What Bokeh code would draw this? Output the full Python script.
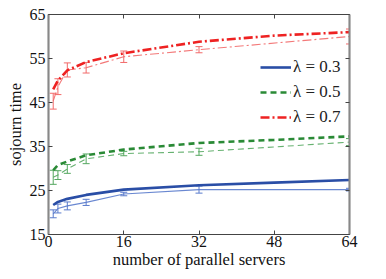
from bokeh.plotting import figure
from bokeh.models import (LinearAxis, FixedTicker, Whisker, TeeHead, ColumnDataSource,
                          Legend, LegendItem, Range1d, CustomJSTickFormatter)
from bokeh.embed import file_html
from bokeh.resources import INLINE

# data
x_model = [1, 2, 4, 8, 16, 32, 48, 64]
model_03 = [21.7, 22.4, 23.1, 24.0, 25.2, 26.2, 26.8, 27.4]
model_05 = [29.6, 30.8, 31.6, 33.0, 34.3, 35.8, 36.5, 37.3]
model_07 = [48.0, 50.0, 52.3, 54.2, 56.2, 58.8, 60.2, 61.0]

x_sim = [1, 2, 4, 8, 16, 32, 64]
sim_03 = [19.7, 20.9, 21.5, 22.3, 24.2, 25.2, 25.2]
err_03 = [0.9, 1.0, 0.9, 0.7, 0.4, 0.8, 0.3]
sim_05 = [28.0, 28.5, 29.9, 32.2, 33.4, 33.8, 36.0]
err_05 = [1.6, 1.0, 1.0, 1.1, 0.5, 0.8, 0.8]
sim_07 = [45.3, 48.6, 52.4, 52.9, 55.4, 57.0, 60.0]
err_07 = [1.8, 1.8, 1.6, 1.2, 1.3, 0.7, 1.7]

labels = ["λ = 0.3", "λ = 0.5", "λ = 0.7"]
x_ticks = [0, 16, 32, 48, 64]
y_ticks = [15, 25, 35, 45, 55, 65]

FONT = "Liberation Serif"
colors = ["#2a4ea6", "#2a8a36", "#ee2222"]
light = ["#5a7bcc", "#55a860", "#f26a6a"]
dashes = ["solid", "6 4", "9 3 2 3"]

p = figure(width=378, height=271, output_backend="svg", toolbar_location=None,
           x_range=Range1d(0, 64), y_range=Range1d(15, 65),
           min_border_left=48, min_border_right=29, min_border_top=14, min_border_bottom=34)
p.background_fill_color = "white"
p.border_fill_color = "white"
p.grid.visible = False
p.outline_line_color = "#444444"
p.outline_line_width = 1.2

for ax in [p.xaxis[0], p.yaxis[0]]:
    ax.major_label_text_font = FONT
    ax.major_label_text_font_size = "16px"
    ax.major_label_text_color = "#111111"
    ax.axis_label_text_font = FONT
    ax.axis_label_text_font_size = "16.5px"
    ax.axis_label_text_font_style = "normal"
    ax.axis_label_text_color = "#111111"
    ax.major_tick_in = 4
    ax.major_tick_out = 0
    ax.minor_tick_line_color = None
    ax.axis_line_color = "#444444"
    ax.major_tick_line_color = "#444444"

p.xaxis[0].ticker = FixedTicker(ticks=x_ticks)
p.yaxis[0].ticker = FixedTicker(ticks=y_ticks)
p.xaxis[0].axis_label = "number of parallel servers"
p.yaxis[0].axis_label = "sojourn time"
p.xaxis[0].major_label_standoff = 1
p.xaxis[0].axis_label_standoff = 0
p.yaxis[0].major_label_standoff = 3
p.yaxis[0].axis_label_standoff = 2

blank = CustomJSTickFormatter(code="return '';")
top = LinearAxis(ticker=FixedTicker(ticks=x_ticks), formatter=blank,
                 major_tick_in=4, major_tick_out=0, minor_tick_line_color=None,
                 major_label_standoff=0,
                 axis_line_color="#444444", major_tick_line_color="#444444")
right = LinearAxis(ticker=FixedTicker(ticks=y_ticks), formatter=blank,
                   major_tick_in=4, major_tick_out=0, minor_tick_line_color=None,
                   major_label_standoff=0,
                   axis_line_color="#888888", axis_line_width=2,
                   major_tick_line_color="#444444")
p.add_layout(top, "above")
p.add_layout(right, "right")
p.yaxis[0].axis_line_color = "#888888"
p.yaxis[0].axis_line_width = 2

sims = [(sim_03, err_03), (sim_05, err_05), (sim_07, err_07)]
models = [model_03, model_05, model_07]
items = []
for i in range(3):
    sim, err = sims[i]
    p.line(x_sim, sim, line_color=light[i], line_width=1.1, line_dash=dashes[i], line_alpha=0.9)
    src = ColumnDataSource(dict(x=x_sim,
                                lo=[s - e for s, e in zip(sim, err)],
                                hi=[s + e for s, e in zip(sim, err)]))
    w = Whisker(source=src, base="x", upper="hi", lower="lo", dimension="height",
                line_color=light[i], line_width=1,
                upper_head=TeeHead(size=7, line_color=light[i], line_width=1),
                lower_head=TeeHead(size=7, line_color=light[i], line_width=1))
    p.add_layout(w)
    r = p.line(x_model, models[i], line_color=colors[i], line_width=2.6, line_dash=dashes[i])
    items.append(LegendItem(label=labels[i], renderers=[r]))

legend = Legend(items=items, location=(212, 107), border_line_color=None,
                background_fill_alpha=0, label_text_font=FONT, label_text_font_size="17px",
                label_text_color="#222222", glyph_width=31, glyph_height=20,
                label_height=20, spacing=5, padding=2, margin=0, label_standoff=2)
p.add_layout(legend)

open("out.html", "w").write(file_html(p, INLINE))
